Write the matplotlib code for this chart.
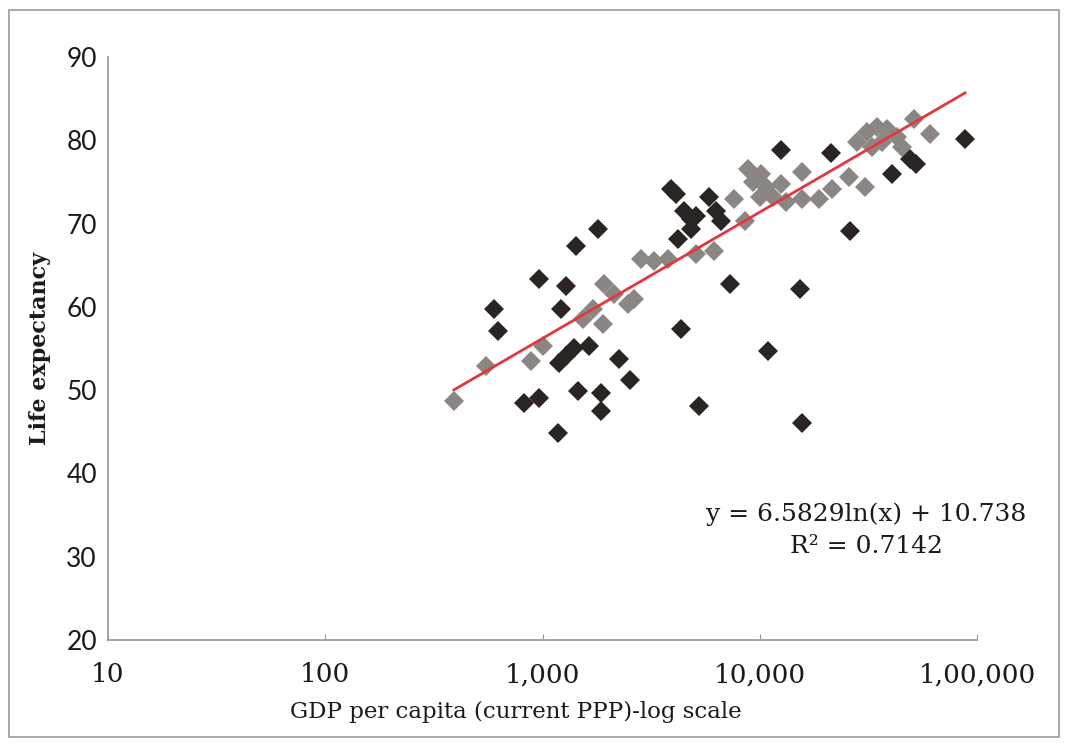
import numpy as np
import matplotlib.pyplot as plt
from matplotlib.patches import Rectangle
from matplotlib.ticker import FixedLocator, NullLocator

# dark series (GDP per capita PPP, life expectancy)
dark_gdp = [597, 623, 822, 964, 964, 1178, 1217, 1283, 1428, 1191, 1283, 1397,
            1640, 1458, 1803, 1862, 1862, 2254, 2535, 4130, 3917, 4496, 4842,
            4842, 4217, 5105, 5864, 6310, 6663, 4355, 5272, 7261, 10965, 12470,
            15250, 15590, 21200, 25940, 40550, 49090, 52360, 88100]
dark_life = [59.7, 57.1, 48.4, 49.0, 63.3, 44.8, 59.8, 62.5, 67.3, 53.3, 54.1, 55.1,
             55.3, 49.9, 69.4, 49.7, 47.5, 53.7, 51.2, 73.5, 74.1, 71.5, 70.6,
             69.4, 68.1, 70.9, 73.2, 71.5, 70.3, 57.3, 48.1, 62.7, 54.7, 78.8,
             62.1, 46.0, 78.5, 69.1, 76.0, 77.8, 77.1, 80.1]

# grey series
grey_gdp = [391, 549, 885, 1005, 1537, 1709, 1923, 1903, 2138, 2478, 2642, 2845,
            3266, 3791, 5105, 6180, 7643, 8511, 8872, 9354, 9980, 10740, 11560,
            12590, 13270, 10180, 15590, 15590, 18660, 21420, 25640, 30410, 27950,
            31100, 34600, 38460, 42760, 32810, 36480, 45080, 51170, 60670]
grey_life = [48.7, 52.9, 53.5, 55.3, 58.5, 59.8, 62.7, 57.9, 61.5, 60.4, 61.0, 65.8,
             65.5, 65.7, 66.3, 66.7, 73.0, 70.3, 76.6, 75.0, 73.2, 74.4, 73.2,
             74.8, 72.6, 76.0, 76.2, 73.0, 73.0, 74.1, 75.6, 74.4, 79.8,
             81.0, 81.6, 81.3, 80.4, 79.2, 79.8, 79.2, 82.6, 80.7]

# logarithmic trend line from the chart
slope = 6.5829
intercept = 10.738
r2 = 0.7142

x_ticks = [10, 100, 1000, 10000, 100000]
x_tick_labels = ['10', '100', '1,000', '10,000', '1,00,000']
y_ticks = [20, 30, 40, 50, 60, 70, 80, 90]

text_col = '#1a1a1a'

fig = plt.figure(figsize=(10.65, 7.49), dpi=100)
ax = fig.add_axes([108 / 1065, 1 - 640 / 749, (977 - 108) / 1065, (640 - 57) / 749])

ax.plot(grey_gdp, grey_life, linestyle='none', marker='D', markersize=10.5,
        color='#8b8684', markeredgewidth=0, zorder=2)
ax.plot(dark_gdp, dark_life, linestyle='none', marker='D', markersize=10.5,
        color='#2a2522', markeredgewidth=0, zorder=3)

all_x = dark_gdp + grey_gdp
xs = np.linspace(min(all_x), max(all_x), 200)
ax.plot(xs, slope * np.log(xs) + intercept, color='#e0383c', linewidth=2, zorder=4)

ax.set_xscale('log')
ax.set_xlim(10, 100000)
ax.set_ylim(20, 90)
ax.xaxis.set_major_locator(FixedLocator(x_ticks))
ax.xaxis.set_minor_locator(NullLocator())
ax.set_xticklabels(x_tick_labels, fontfamily='DejaVu Serif', fontsize=19, color=text_col)
ax.set_yticks(y_ticks)
ax.set_yticklabels([str(v) for v in y_ticks], fontfamily='Lato', fontsize=19, color=text_col)
ax.tick_params(axis='x', direction='in', length=4, color='#999999', pad=16)
ax.tick_params(axis='y', length=0, pad=8)

for side in ['top', 'right']:
    ax.spines[side].set_visible(False)
for side in ['left', 'bottom']:
    ax.spines[side].set_color('#9a9696')
    ax.spines[side].set_linewidth(1.2)

ax.set_xlabel('GDP per capita (current PPP)-log scale', fontfamily='DejaVu Serif',
              fontsize=16.5, color=text_col)
ax.xaxis.set_label_coords((516 - 108) / 869, -0.105)
ax.set_ylabel('Life expectancy', fontfamily='DejaVu Serif', fontsize=16,
              fontweight='bold', color=text_col, labelpad=11)

eq = 'y = {}ln(x) + {}\nR² = {}'.format(slope, intercept, r2)
fig.text(866 / 1065, 1 - 530 / 749, eq, ha='center', va='center',
         fontfamily='DejaVu Serif', fontsize=18, color=text_col, linespacing=1.5)

fig.patches.append(Rectangle((9 / 1065, 1 - 737 / 749), 1050 / 1065, 727 / 749,
                             transform=fig.transFigure, fill=False,
                             edgecolor='#9a9a9a', linewidth=1.2))

fig.savefig('out.png', dpi=100)
